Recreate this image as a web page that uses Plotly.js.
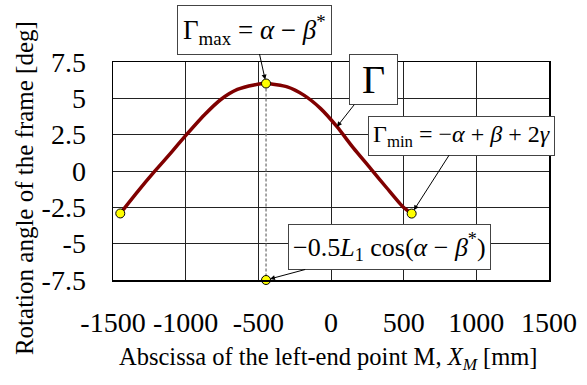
<!DOCTYPE html>
<html>
<head>
<meta charset="utf-8">
<script src="https://cdn.plot.ly/plotly-3.0.1.min.js"></script>
<style>html,body{margin:0;padding:0;background:#fff;}#chart{width:587px;height:385px;}</style>
</head>
<body>
<div id="chart"></div>
<script>
// Curve Γ (rotation angle of the frame) vs abscissa X_M
const curveX = [-1450, -1329, -1214, -1100, -1002, -872, -758, -644, -530, -447, -301, -187, -73, 41, 155, 270, 384, 498, 555];
const curveY = [-2.92, -1.40, -0.03, 1.27, 2.41, 3.85, 4.92, 5.61, 5.92, 6.02, 5.79, 5.22, 4.31, 3.05, 1.57, 0.20, -1.17, -2.50, -2.93];
// Highlighted points
const pointX = [-1450, -447, 555, -447];
const pointY = [-2.92, 6.02, -2.93, -7.5];
// Dashed guide from the peak down to the axis
const guideX = [-447, -447];
const guideY = [6.02, -7.5];
// Ticks
const xTickVals = [-1500, -1000, -500, 0, 500, 1000, 1500];
const xTickText = ["-1500", "-1000", "-500", "0", "500", "1000", "1500"];
const yTickVals = [-7.5, -5, -2.5, 0, 2.5, 5, 7.5];
const yTickText = ["-7.5", "-5", "-2.5", "0", "2.5", "5", "7.5"];
// Annotation targets
const gammaLabelPt = [41, 3.05];

const serif = 'Liberation Serif, Times New Roman, serif';

const traces = [
  {x: guideX, y: guideY, mode: 'lines', line: {color: '#777', width: 1.3, dash: '3px,2px'}, hoverinfo: 'skip', showlegend: false},
  {x: curveX, y: curveY, mode: 'lines', line: {color: '#800000', width: 3.5, shape: 'spline', smoothing: 0.6}, showlegend: false},
  {x: pointX, y: pointY, mode: 'markers', marker: {color: '#ffff00', size: 9, line: {color: '#000', width: 1}}, cliponaxis: false, showlegend: false}
];

const boxStyle = {bgcolor: '#fff', bordercolor: '#444', borderwidth: 1, showarrow: true, arrowhead: 2, arrowsize: 1, arrowwidth: 1, arrowcolor: '#000'};

const layout = {
  width: 587, height: 385,
  margin: {l: 113, r: 38, t: 62, b: 105},
  paper_bgcolor: '#fff', plot_bgcolor: '#fff',
  font: {family: serif, color: '#000', size: 26},
  xaxis: {
    range: [-1500, 1500], tickvals: xTickVals, ticktext: xTickText,
    showgrid: true, gridcolor: '#222', gridwidth: 1, zeroline: false,
    showline: true, linecolor: '#000', linewidth: 1.5, mirror: true,
    ticks: '', ticklabelstandoff: 17, tickfont: {family: serif, size: 28}
  },
  yaxis: {
    range: [-7.5, 7.5], tickvals: yTickVals, ticktext: yTickText,
    showgrid: true, gridcolor: '#222', gridwidth: 1, zeroline: false,
    showline: true, linecolor: '#000', linewidth: 1.5, mirror: true,
    ticks: '', ticklabelstandoff: 20, tickfont: {family: serif, size: 28}
  },
  annotations: [
    Object.assign({}, boxStyle, {x: pointX[1], y: pointY[1], xref: 'x', yref: 'y', ax: -12, ay: -54, standoff: 4,
      text: 'Γ<sub>max</sub> = <i>α</i> − <i>β</i><sup>*</sup>', font: {family: serif, size: 27}, borderpad: 5}),
    Object.assign({}, boxStyle, {x: gammaLabelPt[0], y: gammaLabelPt[1], xref: 'x', yref: 'y', ax: 37, ay: -47,
      text: '&nbsp;Γ&nbsp;', font: {family: serif, size: 40}, borderpad: 2}),
    Object.assign({}, boxStyle, {x: pointX[2], y: pointY[2], xref: 'x', yref: 'y', ax: 50, ay: -78, standoff: 4,
      text: 'Γ<sub>min</sub> = −<i>α</i> + <i>β</i> + 2<i>γ</i>', font: {family: serif, size: 24}, borderpad: 4}),
    Object.assign({}, boxStyle, {x: pointX[3], y: pointY[3], xref: 'x', yref: 'y', ax: 123, ay: -33, standoff: 4,
      text: '−0.5<i>L</i><sub>1</sub> cos(<i>α</i> − <i>β</i><sup>*</sup>)', font: {family: serif, size: 26}, borderpad: 4}),
    {x: 0.493, y: -0.358, xref: 'paper', yref: 'paper', xanchor: 'center', yanchor: 'middle', showarrow: false,
      text: 'Abscissa of the left-end point M, <i>X</i><sub><i>M</i></sub> [mm]', font: {family: serif, size: 24.5}},
    {x: -0.204, y: 0.422, xref: 'paper', yref: 'paper', xanchor: 'center', yanchor: 'middle', showarrow: false, textangle: -90,
      text: 'Rotation angle of the frame [deg]', font: {family: serif, size: 25}}
  ]
};

Plotly.newPlot('chart', traces, layout, {displayModeBar: false, staticPlot: true});
</script>
</body>
</html>
